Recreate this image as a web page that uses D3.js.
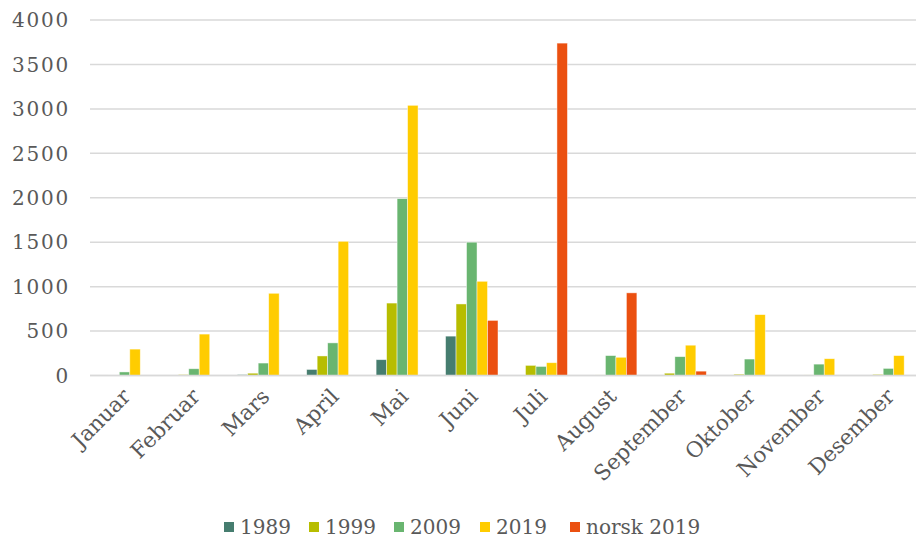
<!DOCTYPE html>
<html>
<head>
<meta charset="utf-8">
<script src="https://cdn.jsdelivr.net/npm/d3@7/dist/d3.min.js"></script>
<style>
  html, body { margin: 0; padding: 0; background: #fff; }
  svg { display: block; }
  text { font-family: "DejaVu Serif", Georgia, serif; fill: #595959; }
</style>
</head>
<body>
<svg id="chart" width="916" height="539"></svg>
<script>
// Monthly counts per year
const months = ["Januar", "Februar", "Mars", "April", "Mai", "Juni", "Juli",
                "August", "September", "Oktober", "November", "Desember"];
const seriesNames = ["1989", "1999", "2009", "2019", "norsk 2019"];
const v1989  = [0, 0, 10, 68, 178, 443, 0, 3, 0, 0, 0, 0];
const v1999  = [5, 10, 26, 220, 815, 805, 114, 6, 26, 14, 6, 12];
const v2009  = [40, 76, 140, 367, 1990, 1500, 102, 224, 212, 185, 128, 80];
const v2019  = [297, 466, 925, 1510, 3040, 1060, 144, 205, 341, 685, 189, 224];
const vNorsk = [0, 0, 0, 0, 0, 620, 3740, 930, 49, 0, 0, 0];
const yTicks = [0, 500, 1000, 1500, 2000, 2500, 3000, 3500, 4000];
const colors = ["#467d6f", "#b7bd00", "#69b570", "#ffcc00", "#eb5010"];

const seriesValues = [v1989, v1999, v2009, v2019, vNorsk];

const svg = d3.select("#chart");
const plot = { left: 90, right: 923, top: 20, bottom: 375.5 };

const x = d3.scaleBand().domain(months).range([plot.left, plot.right]).paddingInner(0.245).paddingOuter(0.12);
const xs = d3.scaleBand().domain(seriesNames).range([0, x.bandwidth()]);
const y = d3.scaleLinear().domain([0, 4000]).range([plot.bottom, plot.top]);

// horizontal gridlines
svg.append("g")
  .selectAll("line")
  .data(yTicks)
  .join("line")
  .attr("x1", plot.left).attr("x2", 916)
  .attr("y1", d => y(d)).attr("y2", d => y(d))
  .attr("stroke", "#d9d9d9")
  .attr("stroke-width", 1.5);

// y tick labels
svg.append("g")
  .selectAll("text")
  .data(yTicks)
  .join("text")
  .attr("x", 70)
  .attr("y", d => y(d))
  .attr("dy", "0.36em")
  .attr("text-anchor", "end")
  .attr("font-size", 20)
  .attr("letter-spacing", 1.8)
  .text(d => d);

// bars
const rows = months.map((m, i) => ({ month: m, vals: seriesValues.map(s => s[i]) }));
const groups = svg.append("g")
  .selectAll("g")
  .data(rows)
  .join("g")
  .attr("transform", d => `translate(${x(d.month)},0)`);

groups.selectAll("rect")
  .data(d => d.vals.map((v, k) => ({ name: seriesNames[k], v, k })))
  .join("rect")
  .filter(d => d.v > 0)
  .attr("x", d => xs(d.name))
  .attr("width", xs.bandwidth())
  .attr("y", d => y(d.v))
  .attr("height", d => plot.bottom - y(d.v))
  .attr("fill", d => colors[d.k])
  .attr("stroke", "#ffffff")
  .attr("stroke-opacity", 0.6)
  .attr("stroke-width", 0.75);

// baseline
svg.append("line")
  .attr("x1", plot.left).attr("x2", 916)
  .attr("y1", plot.bottom).attr("y2", plot.bottom)
  .attr("stroke", "#d9d9d9").attr("stroke-width", 1.5);

// month labels, rotated
svg.append("g")
  .selectAll("text")
  .data(months)
  .join("text")
  .attr("transform", d => `translate(${x(d) + x.bandwidth() / 2 + 2},${plot.bottom + 17}) rotate(-45)`)
  .attr("text-anchor", "end")
  .attr("dy", "0.35em")
  .attr("font-size", 21.5)
  .text(d => d);

// legend
const legend = svg.append("g").attr("transform", "translate(0,527)");
const legendX = [224, 309, 394, 480, 570];
const items = legend.selectAll("g")
  .data(seriesNames)
  .join("g")
  .attr("transform", (d, i) => `translate(${legendX[i]},0)`);
items.append("rect")
  .attr("x", 0).attr("y", -5)
  .attr("width", 10).attr("height", 10)
  .attr("fill", (d, i) => colors[i]);
items.append("text")
  .attr("x", 16)
  .attr("y", 0)
  .attr("dy", "0.36em")
  .attr("font-size", 20)
  .text(d => d);
</script>
</body>
</html>
